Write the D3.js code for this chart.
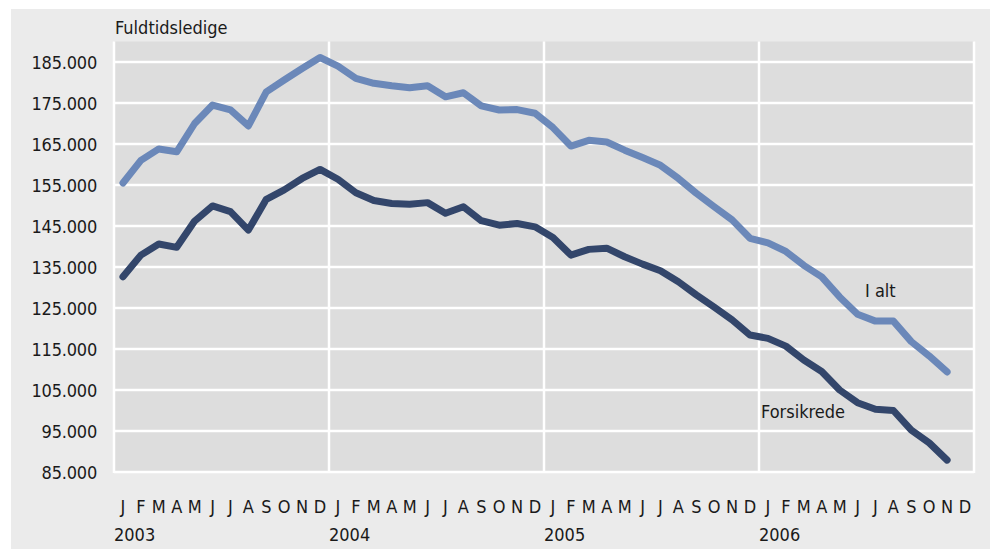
<!DOCTYPE html>
<html><head><meta charset="utf-8">
<script src="https://cdn.jsdelivr.net/npm/d3@7"></script>
<style>
html,body{margin:0;padding:0;background:#fff;}
svg text{font-family:"Liberation Sans Narrow","DejaVu Sans Condensed","Arial Narrow",sans-serif;fill:#1a1a1a;}
</style></head>
<body><svg id="chart" width="998" height="549"></svg>
<script>
const years = ["2003","2004","2005","2006"];
const monthLabels = ["J","F","M","A","M","J","J","A","S","O","N","D"];
const yTicks = [85000,95000,105000,115000,125000,135000,145000,155000,165000,175000,185000];
const seriesNames = ["I alt","Forsikrede"];
const iAlt = [
  155500,161000,163800,163100,170000,174500,173300,169400,177700,180600,183400,186100,
  184000,181000,179800,179200,178700,179200,176500,177500,174300,173300,173400,172500,
  169000,164500,165900,165500,163500,161700,159800,156600,153000,149700,146500,142000,
  140900,138800,135400,132600,127700,123500,121800,121800,116800,113300,109400
];
const forsikrede = [
  132600,137900,140600,139800,146200,149900,148500,144000,151500,153800,156600,158800,
  156400,153100,151200,150500,150300,150700,148100,149700,146300,145200,145600,144800,
  142200,137900,139300,139600,137500,135700,134100,131400,128200,125200,122100,118400,
  117600,115700,112300,109500,105000,101900,100300,100000,95200,92100,87900
];
const yTitle = "Fuldtidsledige";

const svg = d3.select("#chart");
const L = 114, R = 974, T = 41.5, B = 472;
const fontSize = 18;

svg.append("rect").attr("x",11).attr("y",9).attr("width",979).attr("height",540).attr("fill","#ebebeb");
svg.append("rect").attr("x",L).attr("y",T).attr("width",R-L).attr("height",B-T).attr("fill","#dddddd");

const periods = [];
years.forEach(y => monthLabels.forEach((m,i) => periods.push(y + "-" + i)));
const x = d3.scaleBand().domain(periods).range([L,R]).padding(0);
const y = d3.scaleLinear().domain([85000,190000]).range([B,T]);
const loc = d3.formatLocale({decimal:",",thousands:".",grouping:[3],currency:["","kr"]});
const fmt = loc.format(",d");

// horizontal gridlines
svg.append("g").selectAll("line").data(yTicks).join("line")
  .attr("x1",L).attr("x2",R).attr("y1",d=>y(d)).attr("y2",d=>y(d))
  .attr("stroke","#fff").attr("stroke-width",2.5);
// vertical year lines + edges
const vx = years.map(yr => x(yr+"-0")).concat([R]);
svg.append("g").selectAll("line").data(vx).join("line")
  .attr("x1",d=>d).attr("x2",d=>d).attr("y1",T).attr("y2",B+1)
  .attr("stroke","#fff").attr("stroke-width",2.5);

// y axis
const yAxis = d3.axisLeft(y).tickValues(yTicks).tickFormat(fmt).tickSize(0).tickPadding(17);
const ga = svg.append("g").attr("transform",`translate(${L},0)`).call(yAxis);
ga.select(".domain").remove();
ga.selectAll("text").attr("font-size",fontSize).attr("fill","#1a1a1a")
  .attr("font-family",null).attr("dy","0.36em").attr("letter-spacing","-0.2");

// x axis month labels
const xAxis = d3.axisBottom(x).tickSize(0).tickPadding(0).tickFormat(d => monthLabels[+d.split("-")[1]]);
const gx = svg.append("g").attr("transform",`translate(0,${B})`).call(xAxis);
gx.select(".domain").remove();
gx.selectAll("text").attr("font-size",fontSize).attr("fill","#1a1a1a").attr("font-family",null)
  .attr("dy",null).attr("y",41);
// year labels
svg.append("g").selectAll("text").data(years).join("text")
  .attr("x",d=>x(d+"-0")).attr("y",541).attr("font-size",fontSize).text(d=>d);

// title
svg.append("text").attr("x",115).attr("y",34).attr("font-size",fontSize).text(yTitle);

// lines
const line = d3.line().x((d,i)=>x(periods[i]) + x.bandwidth()/2).y(d=>y(d));
const series = [
  {name:seriesNames[0], values:iAlt, color:"#6b88b9"},
  {name:seriesNames[1], values:forsikrede, color:"#33466b"}
];
svg.append("g").selectAll("path").data(series).join("path")
  .attr("d",d=>line(d.values)).attr("fill","none").attr("stroke",d=>d.color)
  .attr("stroke-width",7).attr("stroke-linejoin","round").attr("stroke-linecap","round");

// series labels
svg.append("text").attr("x",865).attr("y",297).attr("font-size",fontSize).text(seriesNames[0]);
svg.append("text").attr("x",761).attr("y",418).attr("font-size",fontSize).text(seriesNames[1]);
</script></body></html>
